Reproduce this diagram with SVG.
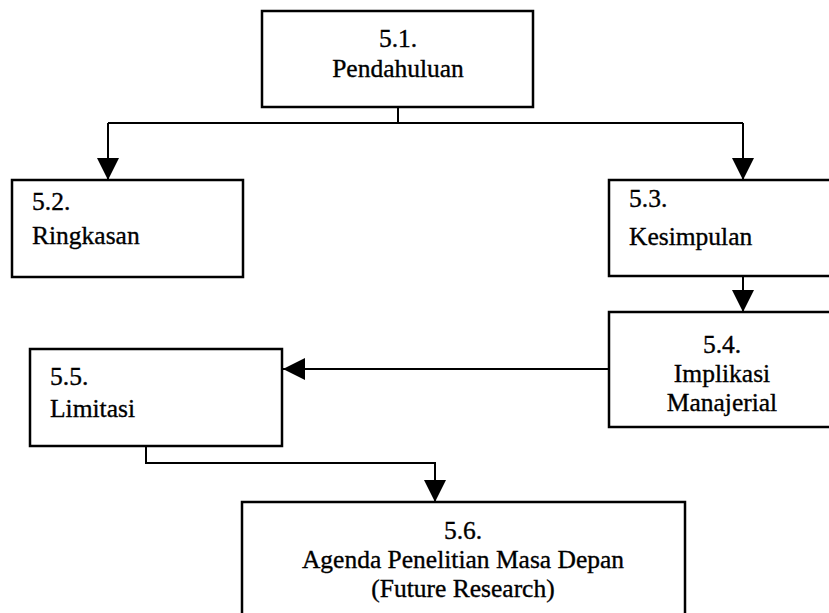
<svg xmlns="http://www.w3.org/2000/svg" width="829" height="613" viewBox="0 0 829 613">
  <style>
    .box { fill: #ffffff; stroke: #000000; stroke-width: 2.5; }
    .line { fill: none; stroke: #000000; stroke-width: 2; }
    text { font-family: "Liberation Serif", "Times New Roman", serif; font-size: 25.5px; fill: #000000; stroke: #000000; stroke-width: 0.35; }
    .c { text-anchor: middle; }
  </style>
  <defs>
    <marker id="arrow" viewBox="0 0 22 22" refX="22" refY="11" markerWidth="22" markerHeight="22" markerUnits="userSpaceOnUse" orient="auto">
      <path d="M0,0 L22,11 L0,22 Z" fill="#000000"/>
    </marker>
  </defs>
  <rect width="829" height="613" fill="#ffffff"/>

  <g id="connectors">
    <path class="line" d="M398,107 V123"/>
    <path class="line" d="M108,123 H743"/>
    <path class="line" d="M108,123 V180" marker-end="url(#arrow)"/>
    <path class="line" d="M743,123 V180" marker-end="url(#arrow)"/>
    <path class="line" d="M743,276 V312" marker-end="url(#arrow)"/>
    <path class="line" d="M609,369 H283" marker-end="url(#arrow)"/>
    <path class="line" d="M146,446 V463 H435 V502" marker-end="url(#arrow)"/>
  </g>

  <g id="node-5-1">
    <rect class="box" x="262" y="11" width="271" height="96"/>
    <text class="c" x="398" y="47">5.1.</text>
    <text class="c" x="398" y="77">Pendahuluan</text>
  </g>

  <g id="node-5-2">
    <rect class="box" x="12" y="180" width="231" height="97"/>
    <text x="32" y="210">5.2.</text>
    <text x="32" y="244">Ringkasan</text>
  </g>

  <g id="node-5-3">
    <rect class="box" x="609" y="180" width="240" height="96"/>
    <text x="629" y="207">5.3.</text>
    <text x="629" y="245">Kesimpulan</text>
  </g>

  <g id="node-5-4">
    <rect class="box" x="609" y="312" width="240" height="115"/>
    <text class="c" x="722" y="353">5.4.</text>
    <text class="c" x="722" y="382">Implikasi</text>
    <text class="c" x="722" y="411">Manajerial</text>
  </g>

  <g id="node-5-5">
    <rect class="box" x="30" y="349" width="252" height="97"/>
    <text x="50" y="385">5.5.</text>
    <text x="50" y="417">Limitasi</text>
  </g>

  <g id="node-5-6">
    <rect class="box" x="242" y="502" width="443" height="130"/>
    <text class="c" x="463" y="539">5.6.</text>
    <text class="c" x="463" y="568">Agenda Penelitian Masa Depan</text>
    <text class="c" x="463" y="597">(Future Research)</text>
  </g>
</svg>
